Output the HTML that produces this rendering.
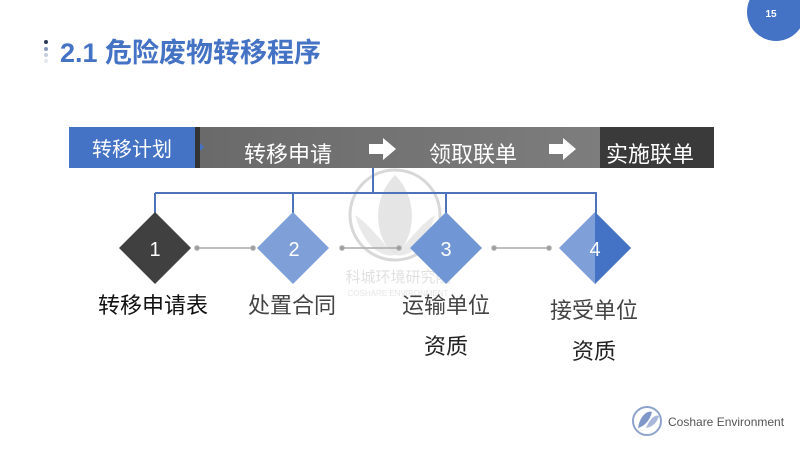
<!DOCTYPE html>
<html><head><meta charset="utf-8"><style>
html,body{margin:0;padding:0;background:#fff;}
svg{display:block;}
text{font-family:"Liberation Sans","Noto Sans CJK SC",sans-serif;}
</style></head><body>
<svg width="800" height="450" viewBox="0 0 800 450" xmlns="http://www.w3.org/2000/svg">
<defs>
<linearGradient id="g" x1="0" x2="1" y1="0" y2="0"><stop offset="0" stop-color="#6a6a6a"/><stop offset="1" stop-color="#7d7d7d"/></linearGradient>
</defs>
<circle cx="776" cy="12" r="29" fill="#4472c4"/>
<text x="771" y="17" font-size="10" font-weight="bold" fill="#fff" text-anchor="middle">15</text>
<circle cx="46" cy="42" r="2" fill="#2b3a55"/>
<circle cx="46" cy="49" r="2" fill="#8899bb"/>
<circle cx="46" cy="55" r="2" fill="#c5cde0"/>
<circle cx="46" cy="61" r="2" fill="#e3e7ef"/>
<text x="60" y="62" font-size="27" font-weight="bold" fill="#4472c4">2.1 危险废物转移程序</text>
<rect x="200" y="127" width="400" height="41" fill="url(#g)"/>
<rect x="69" y="127" width="126" height="41" fill="#4472c4"/>
<rect x="195" y="127" width="5" height="41" fill="#333"/>
<polygon points="200,143 204,147 200,151" fill="#4472c4"/>
<rect x="600" y="127" width="114" height="41" fill="#3a3a3a"/>
<text x="132" y="156" font-size="20" fill="#fff" text-anchor="middle">转移计划</text>
<text x="288" y="162" font-size="22" fill="#fff" text-anchor="middle">转移申请</text>
<text x="473" y="162" font-size="22" fill="#fff" text-anchor="middle">领取联单</text>
<text x="650" y="162" font-size="22" fill="#fff" text-anchor="middle">实施联单</text>
<polygon points="369,144 383,144 383,138 396,149 383,160 383,154 369,154" fill="#fff"/>
<polygon points="549,144 563,144 563,138 576,149 563,160 563,154 549,154" fill="#fff"/>
<g opacity="0.25">
<circle cx="395" cy="215" r="45" fill="none" stroke="#666" stroke-width="3"/>
<path d="M395 175 C370 200 375 240 395 255 C415 240 420 200 395 175Z" fill="#999"/>
<path d="M355 215 C365 250 385 258 395 255 C380 240 370 225 355 215Z" fill="#aaa"/>
<path d="M435 215 C425 250 405 258 395 255 C410 240 420 225 435 215Z" fill="#aaa"/>
<text x="398" y="282" font-size="15" fill="#888" text-anchor="middle" font-family="Liberation Serif,Noto Serif CJK SC,serif">科城环境研究院</text>
<text x="398" y="296" font-size="8" fill="#999" text-anchor="middle" font-family="Liberation Serif,serif">COSHARE ENVIRONMENT</text>
</g>
<g stroke="#4d73bb" stroke-width="2" fill="none">
<line x1="373" y1="168" x2="373" y2="193"/>
<line x1="155" y1="193" x2="597" y2="193"/>
<line x1="155" y1="193" x2="155" y2="215"/>
<line x1="293" y1="193" x2="293" y2="215"/>
<line x1="446" y1="193" x2="446" y2="215"/>
<line x1="596" y1="193" x2="596" y2="215"/>
</g>
<g stroke="#aaa" stroke-width="1.5" fill="#999">
<line x1="197" y1="248" x2="253" y2="248"/><circle cx="197" cy="248" r="2"/><circle cx="253" cy="248" r="2"/>
<line x1="342" y1="248" x2="399" y2="248"/><circle cx="342" cy="248" r="2"/><circle cx="399" cy="248" r="2"/>
<line x1="494" y1="248" x2="549" y2="248"/><circle cx="494" cy="248" r="2"/><circle cx="549" cy="248" r="2"/>
</g>
<polygon points="155,212 191,248 155,284 119,248" fill="#404040"/>
<polygon points="293,212 329,248 293,284 257,248" fill="#7f9fd8"/>
<polygon points="446,212 482,248 446,284 410,248" fill="#7196d6"/>
<polygon points="595,212 631,248 595,284 559,248" fill="#7f9fd8"/>
<polygon points="595,212 631,248 595,284" fill="#4472c4"/>
<g font-size="20" fill="#fff" text-anchor="middle">
<text x="155" y="256">1</text><text x="294" y="256">2</text><text x="446" y="256">3</text><text x="595" y="256">4</text>
</g>
<g font-size="22" text-anchor="middle">
<text x="153" y="313" fill="#111">转移申请表</text>
<text x="292" y="313" fill="#444">处置合同</text>
<text x="446" y="313" fill="#444">运输单位</text>
<text x="446" y="354" fill="#222">资质</text>
<text x="594" y="318" fill="#444">接受单位</text>
<text x="594" y="359" fill="#222">资质</text>
</g>
<circle cx="647" cy="421" r="14" fill="none" stroke="#8ea3cc" stroke-width="2"/>
<path d="M638 428 C640 415 648 410 652 412 C650 420 645 426 638 428Z" fill="#7f97c8"/>
<path d="M646 428 C650 418 656 414 659 416 C657 423 652 427 646 428Z" fill="#a9b8da"/>
<text x="668" y="426" font-size="12" fill="#555">Coshare Environment</text>
</svg>
</body></html>
